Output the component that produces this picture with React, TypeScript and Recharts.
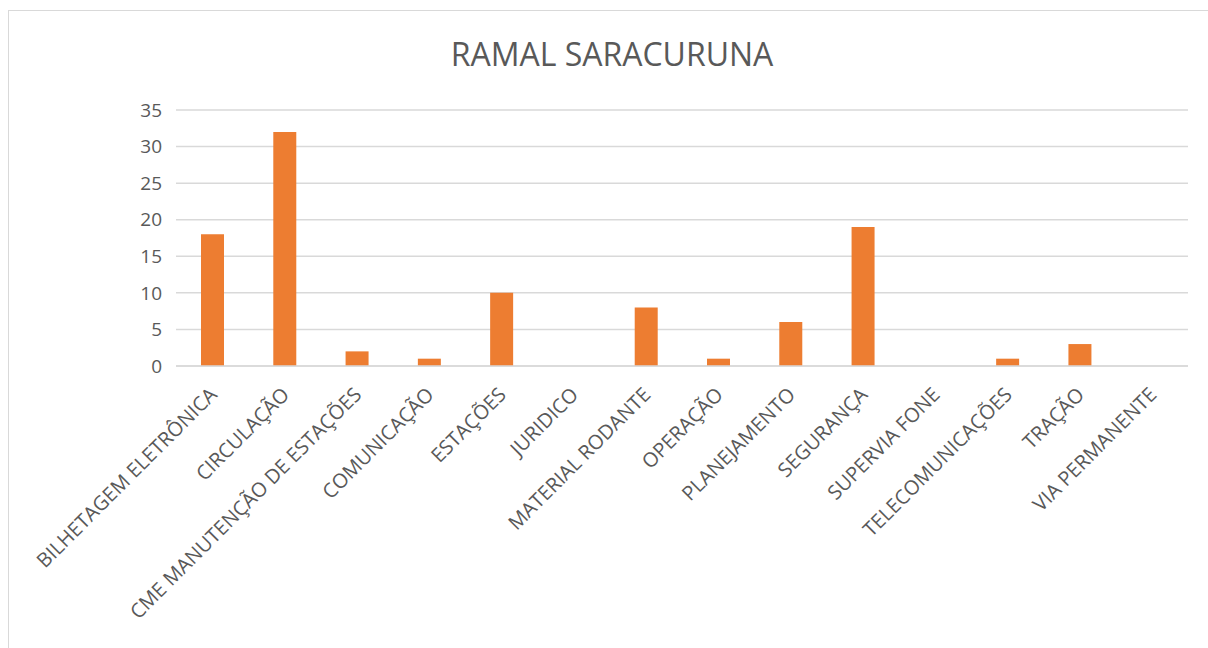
import { BarChart, Bar, XAxis, YAxis, CartesianGrid } from 'recharts';

const categories = [
  'BILHETAGEM ELETRÔNICA',
  'CIRCULAÇÃO',
  'CME MANUTENÇÃO DE ESTAÇÕES',
  'COMUNICAÇÃO',
  'ESTAÇÕES',
  'JURIDICO',
  'MATERIAL RODANTE',
  'OPERAÇÃO',
  'PLANEJAMENTO',
  'SEGURANÇA',
  'SUPERVIA FONE',
  'TELECOMUNICAÇÕES',
  'TRAÇÃO',
  'VIA PERMANENTE',
];
const counts = [18, 32, 2, 1, 10, 0, 8, 1, 6, 19, 0, 1, 3, 0];
const yTicks = [0, 5, 10, 15, 20, 25, 30, 35];

const data = categories.map((name, i) => ({ name, value: counts[i] }));

const FONT = '"Open Sans", sans-serif';

function AngledTick(props: any) {
  const { x, y, payload } = props;
  return (
    <g transform={`translate(${x + 6},${y + 22})`}>
      <text
        transform="rotate(-45)"
        textAnchor="end"
        fill="#595959"
        fontSize={20}
        fontFamily={FONT}
      >
        {payload.value}
      </text>
    </g>
  );
}

export default function App() {
  return (
    <div style={{ position: 'fixed', inset: 0, overflow: 'hidden', background: '#fff' }}>
      <div
        style={{
          position: 'absolute',
          left: 8,
          top: 10,
          width: 1208,
          height: 660,
          border: '1px solid #d9d9d9',
          boxSizing: 'border-box',
        }}
      >
        <div
          style={{
            position: 'absolute',
            top: 21,
            left: 0,
            width: '100%',
            textAlign: 'center',
            fontFamily: FONT,
            fontSize: 32,
            lineHeight: '44px',
            color: '#595959',
          }}
        >
          RAMAL SARACURUNA
        </div>
        <BarChart
          width={1206}
          height={640}
          data={data}
          margin={{ top: 99, right: 27, left: 0, bottom: 0 }}
        >
          <CartesianGrid vertical={false} stroke="#d9d9d9" strokeWidth={1.5} />
          <XAxis
            dataKey="name"
            interval={0}
            height={285}
            tick={<AngledTick />}
            tickLine={false}
            axisLine={{ stroke: '#d9d9d9', strokeWidth: 1.5 }}
          />
          <YAxis
            width={167}
            domain={[0, 35]}
            ticks={yTicks}
            tickLine={false}
            axisLine={false}
            tickSize={0}
            tickMargin={14}
            tick={{ fill: '#595959', fontSize: 19, fontFamily: FONT }}
          />
          <Bar dataKey="value" fill="#ED7D31" barSize={23} isAnimationActive={false} />
        </BarChart>
      </div>
    </div>
  );
}
